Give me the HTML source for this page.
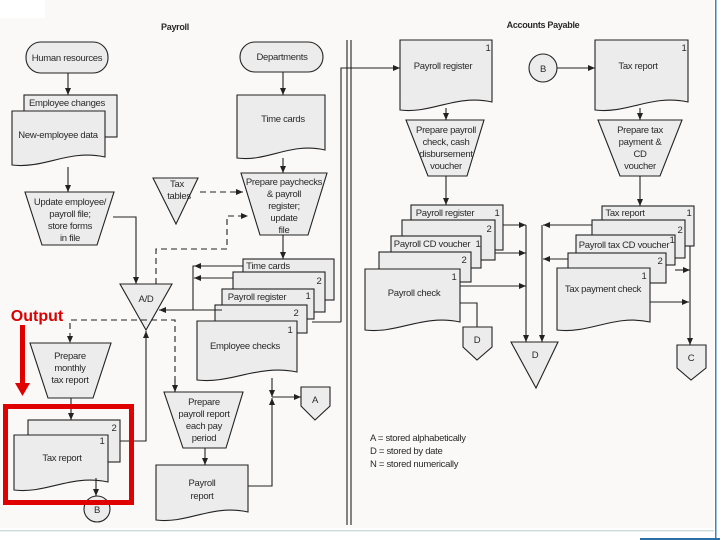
<!DOCTYPE html>
<html><head><meta charset="utf-8"><style>
html,body{margin:0;padding:0;background:#fff}
svg{display:block}
text{font-family:"Liberation Sans",sans-serif;font-size:9.5px;fill:#2a2a2a;text-anchor:middle;letter-spacing:-0.3px}
.s{fill:#ececec;stroke:#222;stroke-width:1.1}
.l{fill:none;stroke:#222;stroke-width:1.1}
.d{fill:none;stroke:#222;stroke-width:1.1;stroke-dasharray:6 4}
</style></head><body>
<svg width="720" height="540" viewBox="0 0 720 540" xmlns="http://www.w3.org/2000/svg">
<defs><marker id="a" markerWidth="8" markerHeight="8" refX="7" refY="4" orient="auto" markerUnits="userSpaceOnUse"><path d="M0 1L7 4L0 7Z" fill="#222"/></marker></defs>
<rect width="720" height="540" fill="#fbf9f8"/>
<rect x="0" y="0" width="45" height="18" fill="#fff"/>
<rect x="0" y="528" width="720" height="12" fill="#fff"/>
<rect x="0" y="530" width="720" height="1.5" fill="#cfdcdc"/>
<rect x="714" y="0" width="6" height="540" fill="#fff"/>
<rect x="715" y="0" width="1.5" height="540" fill="#3a86c0"/>
<rect x="640" y="538" width="80" height="2" fill="#2a70a8"/>

<text x="175" y="30" style="font-weight:bold;font-size:9px">Payroll</text>
<text x="543" y="28" style="font-weight:bold;font-size:9px">Accounts Payable</text>

<!-- dividers -->
<line x1="347" y1="40" x2="347" y2="525" class="l"/>
<line x1="351" y1="40" x2="351" y2="525" class="l"/>

<!-- Human resources -->
<rect x="26" y="42" width="82" height="31" rx="15" class="s"/>
<text x="67" y="61">Human resources</text>
<line x1="68" y1="73" x2="68" y2="95" class="l" marker-end="url(#a)"/>
<rect x="24" y="95" width="93" height="42" class="s"/>
<text x="67" y="106">Employee changes</text>
<path d="M12 111H105V157C68 149 45 169 12 165Z" class="s"/>
<text x="58" y="138">New-employee data</text>
<line x1="68" y1="167" x2="68" y2="192" class="l" marker-end="url(#a)"/>
<path d="M25 192H114L97 245H42Z" class="s"/>
<text x="70" y="205">Update employee/</text>
<text x="70" y="217">payroll file;</text>
<text x="70" y="229">store forms</text>
<text x="70" y="241">in file</text>
<path d="M113 217H136V284" class="l" marker-end="url(#a)"/>

<!-- Departments -->
<rect x="240" y="42" width="83" height="30" rx="15" class="s"/>
<text x="282" y="60">Departments</text>
<line x1="283" y1="72" x2="283" y2="95" class="l" marker-end="url(#a)"/>
<path d="M237 95H325V150C290 142 268 162 237 158Z" class="s"/>
<text x="283" y="122">Time cards</text>
<line x1="283" y1="158" x2="283" y2="173" class="l" marker-end="url(#a)"/>
<path d="M241 173H327L308 235H260Z" class="s"/>
<text x="284" y="185">Prepare paychecks</text>
<text x="284" y="197">&amp; payroll</text>
<text x="284" y="209">register;</text>
<text x="284" y="221">update</text>
<text x="284" y="233">file</text>

<path d="M153 178H198L176 224Z" class="s"/>
<text x="177" y="187">Tax</text>
<text x="179" y="199">tables</text>
<line x1="200" y1="192" x2="243" y2="192" class="d" marker-end="url(#a)"/>
<path d="M156 284V249H227V216H248" class="d" marker-end="url(#a)"/>
<line x1="283" y1="235" x2="283" y2="259" class="l" marker-end="url(#a)"/>

<!-- employee checks stack -->
<path d="M341 322V68H400" class="l" marker-end="url(#a)"/>
<line x1="312" y1="322" x2="341" y2="322" class="l"/>
<rect x="243" y="259" width="91" height="41" class="s"/>
<text x="268" y="269">Time cards</text>
<rect x="233" y="272" width="92" height="40" class="s"/>
<text x="319" y="284">2</text>
<rect x="222" y="289" width="92" height="30" class="s"/>
<text x="257" y="300">Payroll register</text>
<text x="308" y="299">1</text>
<rect x="215" y="305" width="92" height="28" class="s"/>
<text x="296" y="316">2</text>
<path d="M197 321H297V372C257 364 232 384 197 380Z" class="s"/>
<text x="290" y="333">1</text>
<text x="245" y="349">Employee checks</text>
<path d="M243 266H193V310" class="l"/>
<line x1="243" y1="266" x2="194" y2="266" class="l" marker-end="url(#a)"/>
<line x1="233" y1="278" x2="194" y2="278" class="l" marker-end="url(#a)"/>
<line x1="222" y1="310" x2="159" y2="310" class="l" marker-end="url(#a)"/>

<!-- A/D -->
<path d="M120 284H172L146 330Z" class="s"/>
<text x="146" y="302">A/D</text>
<path d="M175 392V320H70V343" class="d" marker-end="url(#a)"/>
<line x1="175" y1="380" x2="175" y2="392" class="l" marker-end="url(#a)"/>
<path d="M120 441H146V331" class="l" marker-end="url(#a)"/>

<path d="M30 343H111L93 398H48Z" class="s"/>
<text x="70" y="359">Prepare</text>
<text x="70" y="371">monthly</text>
<text x="70" y="383">tax report</text>
<line x1="71" y1="398" x2="71" y2="420" class="l" marker-end="url(#a)"/>
<rect x="28" y="420" width="92" height="42" class="s"/>
<text x="114" y="431">2</text>
<path d="M14 435H108V482C70 474 47 494 14 490Z" class="s"/>
<text x="102" y="444">1</text>
<text x="62" y="461">Tax report</text>
<line x1="96" y1="478" x2="96" y2="496" class="l" marker-end="url(#a)"/>
<circle cx="97" cy="509" r="13" class="s"/>
<text x="97" y="513">B</text>

<path d="M164 392H243L226 448H183Z" class="s"/>
<text x="204" y="405">Prepare</text>
<text x="204" y="417">payroll report</text>
<text x="204" y="429">each pay</text>
<text x="204" y="441">period</text>
<line x1="205" y1="448" x2="205" y2="465" class="l" marker-end="url(#a)"/>
<path d="M156 465H248V512C211 504 188 524 156 520Z" class="s"/>
<text x="202" y="486">Payroll</text>
<text x="202" y="499">report</text>
<path d="M248 486H272V398" class="l" marker-end="url(#a)"/>
<line x1="272" y1="378" x2="272" y2="397" class="l" marker-end="url(#a)"/>
<line x1="272" y1="397" x2="301" y2="397" class="l" marker-end="url(#a)"/>
<path d="M301 387H330V406L315 420L301 406Z" class="s"/>
<text x="315" y="403">A</text>

<!-- Output annotation -->
<rect x="5.5" y="406.5" width="126" height="96" fill="none" stroke="#e00000" stroke-width="5"/>
<text x="37" y="321" style="fill:#d80000;font-weight:bold;font-size:16px;letter-spacing:0">Output</text>
<rect x="20" y="325" width="5" height="60" fill="#e00000"/>
<path d="M15 383H30L22.5 396Z" fill="#e00000"/>

<!-- AP left -->
<path d="M400 40H492V102C455 94 432 114 400 110Z" class="s"/>
<text x="488" y="51">1</text>
<text x="443" y="69">Payroll register</text>
<line x1="446" y1="108" x2="446" y2="120" class="l" marker-end="url(#a)"/>
<path d="M406 120H484L467 176H428Z" class="s"/>
<text x="446" y="133">Prepare payroll</text>
<text x="446" y="145">check, cash</text>
<text x="446" y="157">disbursement</text>
<text x="446" y="169">voucher</text>
<line x1="446" y1="176" x2="446" y2="205" class="l" marker-end="url(#a)"/>
<line x1="526" y1="225" x2="526" y2="342" class="l" marker-end="url(#a)"/>
<line x1="542" y1="225" x2="542" y2="342" class="l" marker-end="url(#a)"/>
<line x1="503" y1="225" x2="526" y2="225" class="l" marker-end="url(#a)"/>
<line x1="480" y1="253" x2="526" y2="253" class="l" marker-end="url(#a)"/>
<line x1="460" y1="286" x2="526" y2="286" class="l" marker-end="url(#a)"/>
<rect x="411" y="205" width="92" height="45" class="s"/>
<text x="445" y="216">Payroll register</text>
<text x="497" y="216">1</text>
<rect x="402" y="220" width="93" height="40" class="s"/>
<text x="489" y="232">2</text>
<rect x="391" y="236" width="90" height="32" class="s"/>
<text x="432" y="247">Payroll CD voucher</text>
<text x="478" y="247">1</text>
<rect x="379" y="252" width="92" height="30" class="s"/>
<text x="464" y="263">2</text>
<path d="M365 269H460V322C422 314 398 334 365 330Z" class="s"/>
<text x="454" y="280">1</text>
<text x="414" y="296">Payroll check</text>
<path d="M460 303H477V327" class="l"/>
<path d="M463 327H492V347L477 360L463 347Z" class="s"/>
<text x="477" y="343">D</text>
<path d="M511 342H558L536 388Z" class="s"/>
<text x="535" y="358">D</text>

<!-- AP right -->
<circle cx="543" cy="68" r="14" class="s"/>
<text x="543" y="72">B</text>
<line x1="557" y1="68" x2="595" y2="68" class="l" marker-end="url(#a)"/>
<path d="M595 40H688V102C651 94 628 114 595 110Z" class="s"/>
<text x="684" y="51">1</text>
<text x="638" y="69">Tax report</text>
<line x1="640" y1="108" x2="640" y2="120" class="l" marker-end="url(#a)"/>
<path d="M598 120H682L660 176H620Z" class="s"/>
<text x="640" y="133">Prepare tax</text>
<text x="640" y="145">payment &amp;</text>
<text x="640" y="157">CD</text>
<text x="640" y="169">voucher</text>
<line x1="640" y1="176" x2="640" y2="206" class="l" marker-end="url(#a)"/>
<line x1="602" y1="225" x2="543" y2="225" class="l" marker-end="url(#a)"/>
<line x1="568" y1="259" x2="543" y2="259" class="l" marker-end="url(#a)"/>
<rect x="602" y="206" width="92" height="40" class="s"/>
<text x="625" y="216">Tax report</text>
<text x="689" y="216">1</text>
<rect x="592" y="220" width="93" height="38" class="s"/>
<text x="680" y="233">2</text>
<rect x="576" y="235" width="99" height="30" class="s"/>
<text x="624" y="248">Payroll tax CD voucher</text>
<text x="672" y="243">1</text>
<rect x="568" y="253" width="98" height="30" class="s"/>
<text x="660" y="264">2</text>
<path d="M557 268H650V322C614 314 590 334 557 330Z" class="s"/>
<text x="644" y="279">1</text>
<text x="603" y="292">Tax payment check</text>
<line x1="690" y1="246" x2="690" y2="345" class="l" marker-end="url(#a)"/>
<line x1="675" y1="270" x2="690" y2="270" class="l" marker-end="url(#a)"/>
<line x1="650" y1="302" x2="689" y2="302" class="l" marker-end="url(#a)"/>
<path d="M677 345H706V368L691 380L677 368Z" class="s"/>
<text x="691" y="361">C</text>

<!-- legend -->
<text x="370" y="441" style="text-anchor:start">A = stored alphabetically</text>
<text x="370" y="454" style="text-anchor:start">D = stored by date</text>
<text x="370" y="467" style="text-anchor:start">N = stored numerically</text>
</svg>
</body></html>
